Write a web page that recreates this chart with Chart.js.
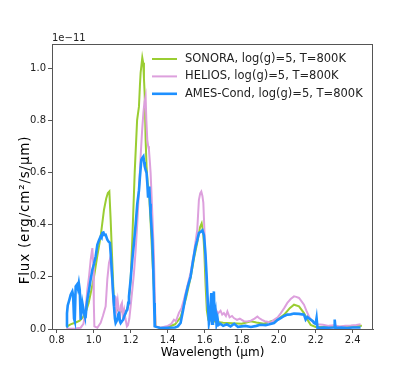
<!DOCTYPE html>
<html>
<head>
<meta charset="utf-8">
<script src="https://cdn.jsdelivr.net/npm/chart.js@4.4.0/dist/chart.umd.min.js"></script>
<style>
  html, body { margin: 0; padding: 0; background: #fff; }
  #wrap { width: 415px; height: 370px; }
</style>
</head>
<body>
<div id="wrap"><canvas id="spectra" width="415" height="370"></canvas></div>
<script>
'use strict';

// ── Data (flux in units of 1e-11 erg/cm²/s/µm, wavelength in µm) ──
const FLUX_EXP = '1e\u221211';
const X_TITLE = 'Wavelength (µm)';
const Y_TITLE = 'Flux (erg/cm²/s/µm)';

const xTicks = [0.8, 1.0, 1.2, 1.4, 1.6, 1.8, 2.0, 2.2, 2.4];
const yTicks = [0.0, 0.2, 0.4, 0.6, 0.8, 1.0];

const seriesLabels = [
    'SONORA, log(g)=5, T=800K',
    'HELIOS, log(g)=5, T=800K',
    'AMES-Cond, log(g)=5, T=800K'
];

const sonora = [
    [0.852, 0.008], [0.875, 0.018], [0.903, 0.025], [0.925, 0.032], [0.946, 0.048],
    [0.960, 0.07], [0.973, 0.10], [0.988, 0.15], [1.002, 0.20], [1.02, 0.28],
    [1.038, 0.355], [1.056, 0.457], [1.068, 0.50], [1.077, 0.521], [1.085, 0.527],
    [1.092, 0.419], [1.101, 0.254], [1.110, 0.10], [1.119, 0.078], [1.133, 0.07],
    [1.146, 0.066], [1.160, 0.07], [1.173, 0.062], [1.182, 0.08], [1.189, 0.093],
    [1.2, 0.189], [1.209, 0.342], [1.222, 0.60], [1.235, 0.80], [1.245, 0.852],
    [1.250, 0.93], [1.254, 0.982], [1.263, 1.04], [1.268, 1.02], [1.272, 0.96],
    [1.276, 0.90], [1.281, 0.725], [1.286, 0.623], [1.292, 0.56], [1.299, 0.53],
    [1.308, 0.407], [1.317, 0.278], [1.326, 0.15], [1.335, 0.01], [1.36, 0.004],
    [1.40, 0.007], [1.44, 0.018], [1.47, 0.045], [1.50, 0.12], [1.525, 0.20],
    [1.545, 0.28], [1.56, 0.33], [1.575, 0.39], [1.584, 0.405], [1.592, 0.37],
    [1.598, 0.30], [1.605, 0.17], [1.612, 0.07], [1.62, 0.035], [1.66, 0.028],
    [1.70, 0.024], [1.75, 0.022], [1.80, 0.02], [1.85, 0.03], [1.88, 0.025],
    [1.92, 0.02], [1.96, 0.03], [1.993, 0.036], [2.03, 0.055], [2.06, 0.08],
    [2.083, 0.093], [2.11, 0.087], [2.137, 0.061], [2.155, 0.036], [2.173, 0.016],
    [2.20, 0.008], [2.30, 0.008], [2.40, 0.01], [2.45, 0.012]
];

const helios = [
    [0.852, 0.0], [0.90, 0.002], [0.93, 0.005], [0.945, 0.02], [0.955, 0.06],
    [0.966, 0.15], [0.975, 0.2], [0.984, 0.265], [0.993, 0.31], [0.998, 0.25],
    [1.001, 0.10], [1.004, 0.01], [1.02, 0.005], [1.038, 0.024], [1.05, 0.05],
    [1.065, 0.087], [1.074, 0.19], [1.083, 0.253], [1.092, 0.278], [1.097, 0.22],
    [1.103, 0.15], [1.108, 0.10], [1.114, 0.06], [1.119, 0.125], [1.124, 0.08],
    [1.130, 0.11], [1.137, 0.06], [1.141, 0.035], [1.147, 0.09], [1.153, 0.10],
    [1.158, 0.05], [1.165, 0.074], [1.172, 0.04], [1.18, 0.01], [1.186, 0.015],
    [1.193, 0.04], [1.2, 0.087], [1.209, 0.15], [1.218, 0.215], [1.227, 0.30],
    [1.236, 0.406], [1.245, 0.53], [1.254, 0.661], [1.262, 0.76], [1.269, 0.828],
    [1.275, 0.87], [1.281, 0.891], [1.285, 0.80], [1.29, 0.725], [1.295, 0.70],
    [1.299, 0.687], [1.304, 0.64], [1.308, 0.598], [1.317, 0.445], [1.326, 0.278],
    [1.331, 0.112], [1.335, 0.01], [1.36, 0.005], [1.40, 0.012], [1.42, 0.02],
    [1.434, 0.036], [1.445, 0.03], [1.461, 0.062], [1.475, 0.08], [1.488, 0.112],
    [1.505, 0.16], [1.524, 0.215], [1.542, 0.29], [1.56, 0.38], [1.569, 0.495],
    [1.576, 0.52], [1.582, 0.527], [1.588, 0.51], [1.593, 0.483], [1.6, 0.355],
    [1.607, 0.227], [1.615, 0.10], [1.623, 0.048], [1.632, 0.06], [1.642, 0.087],
    [1.65, 0.065], [1.66, 0.075], [1.672, 0.06], [1.686, 0.07], [1.695, 0.055],
    [1.704, 0.061], [1.715, 0.05], [1.723, 0.067], [1.735, 0.045], [1.748, 0.05],
    [1.758, 0.042], [1.775, 0.035], [1.79, 0.04], [1.812, 0.03], [1.83, 0.029],
    [1.85, 0.032], [1.87, 0.04], [1.885, 0.048], [1.894, 0.042], [1.91, 0.035],
    [1.925, 0.03], [1.94, 0.028], [1.957, 0.025], [1.975, 0.035], [1.995, 0.045],
    [2.011, 0.06], [2.03, 0.08], [2.047, 0.10], [2.065, 0.115], [2.083, 0.125],
    [2.095, 0.123], [2.11, 0.119], [2.125, 0.105], [2.137, 0.093], [2.15, 0.07],
    [2.164, 0.048], [2.18, 0.03], [2.19, 0.023], [2.21, 0.018], [2.24, 0.016],
    [2.27, 0.012], [2.30, 0.014], [2.33, 0.01], [2.36, 0.012], [2.39, 0.013],
    [2.42, 0.015], [2.443, 0.018]
];

const ames = [
    [0.852, 0.01], [0.856, 0.06], [0.86, 0.09], [0.868, 0.11], [0.876, 0.131],
    [0.885, 0.144], [0.889, 0.13], [0.894, 0.04], [0.898, 0.03], [0.903, 0.163],
    [0.91, 0.17], [0.915, 0.155], [0.92, 0.176], [0.925, 0.15], [0.93, 0.036],
    [0.935, 0.07], [0.939, 0.10], [0.944, 0.08], [0.948, 0.061], [0.952, 0.05],
    [0.957, 0.048], [0.962, 0.09], [0.966, 0.112], [0.975, 0.15], [0.984, 0.19],
    [0.993, 0.227], [1.002, 0.25], [1.011, 0.278], [1.02, 0.323], [1.029, 0.34],
    [1.038, 0.355], [1.043, 0.35], [1.047, 0.368], [1.053, 0.37], [1.058, 0.36],
    [1.065, 0.361], [1.074, 0.342], [1.081, 0.335], [1.088, 0.33], [1.095, 0.26],
    [1.101, 0.189], [1.106, 0.13], [1.11, 0.087], [1.115, 0.04], [1.119, 0.023],
    [1.124, 0.03], [1.128, 0.036], [1.133, 0.055], [1.137, 0.067], [1.142, 0.03],
    [1.146, 0.023], [1.153, 0.03], [1.16, 0.036], [1.166, 0.05], [1.173, 0.061],
    [1.178, 0.07], [1.182, 0.074], [1.187, 0.10], [1.191, 0.125], [1.2, 0.189],
    [1.209, 0.265], [1.218, 0.33], [1.227, 0.40], [1.236, 0.48], [1.245, 0.53],
    [1.25, 0.58], [1.258, 0.649], [1.263, 0.655], [1.269, 0.661], [1.273, 0.64],
    [1.276, 0.623], [1.281, 0.61], [1.286, 0.598], [1.29, 0.56], [1.294, 0.508],
    [1.298, 0.53], [1.301, 0.546], [1.305, 0.48], [1.308, 0.444], [1.317, 0.342],
    [1.323, 0.215], [1.327, 0.10], [1.33, 0.01], [1.36, 0.004], [1.40, 0.005],
    [1.44, 0.006], [1.455, 0.01], [1.47, 0.023], [1.483, 0.07], [1.497, 0.125],
    [1.51, 0.165], [1.524, 0.20], [1.537, 0.26], [1.551, 0.316], [1.56, 0.34],
    [1.569, 0.368], [1.578, 0.372], [1.588, 0.378], [1.596, 0.36], [1.6, 0.33],
    [1.605, 0.28], [1.611, 0.20], [1.618, 0.087], [1.623, 0.023], [1.629, 0.05],
    [1.636, 0.138], [1.64, 0.02], [1.645, 0.06], [1.65, 0.144], [1.654, 0.03],
    [1.66, 0.06], [1.664, 0.02], [1.67, 0.04], [1.675, 0.015], [1.685, 0.02],
    [1.70, 0.012], [1.72, 0.018], [1.74, 0.01], [1.76, 0.02], [1.78, 0.008],
    [1.80, 0.01], [1.82, 0.012], [1.85, 0.008], [1.88, 0.012], [1.90, 0.016],
    [1.93, 0.015], [1.95, 0.018], [1.975, 0.023], [1.995, 0.035], [2.011, 0.042],
    [2.03, 0.05], [2.047, 0.055], [2.065, 0.056], [2.083, 0.059], [2.11, 0.058],
    [2.137, 0.055], [2.146, 0.036], [2.155, 0.046], [2.165, 0.04], [2.173, 0.036],
    [2.185, 0.03], [2.191, 0.023], [2.2, 0.02], [2.205, 0.042], [2.21, 0.004],
    [2.24, 0.006], [2.27, 0.005], [2.30, 0.006], [2.303, 0.036], [2.307, 0.005],
    [2.34, 0.006], [2.37, 0.004], [2.40, 0.006], [2.443, 0.006]
];

const seriesColors = ['#9acd32', '#dda0dd', '#1e90ff'];
const seriesWidths = [2, 2, 2.6];

// ── Helpers ───────────────────────────────────────────────
const FONT = "'DejaVu Sans', sans-serif";
const toPoints = arr => arr.map(p => ({ x: p[0], y: p[1] }));

// top/right spines, y label, legend, offset text
const framePlugin = {
    id: 'frame',
    afterDraw(chart) {
        const { ctx, chartArea: a } = chart;
        ctx.save();
        ctx.strokeStyle = '#555';
        ctx.lineWidth = 1;
        ctx.beginPath();
        ctx.moveTo(a.left, a.top + 0.5);
        ctx.lineTo(a.right, a.top + 0.5);
        ctx.moveTo(a.right - 0.5, a.top);
        ctx.lineTo(a.right - 0.5, a.bottom);
        ctx.stroke();

        // offset text
        ctx.fillStyle = '#222';
        ctx.font = '10px ' + FONT;
        ctx.textAlign = 'left';
        ctx.textBaseline = 'bottom';
        ctx.fillText(FLUX_EXP, a.left, a.top - 1);

        // y axis title
        ctx.save();
        ctx.translate(25, 210);
        ctx.rotate(-Math.PI / 2);
        ctx.fillStyle = '#000';
        ctx.font = '13.5px ' + FONT;
        if ('letterSpacing' in ctx) ctx.letterSpacing = '0.8px';
        ctx.textAlign = 'center';
        ctx.textBaseline = 'middle';
        ctx.fillText(Y_TITLE, 0, 0);
        ctx.restore();

        // legend
        ctx.font = '11.5px ' + FONT;
        ctx.textBaseline = 'middle';
        seriesLabels.forEach((label, i) => {
            const y = a.top + 15 + i * 17.4;
            const x0 = a.right - 221;
            ctx.strokeStyle = seriesColors[i];
            ctx.lineWidth = seriesWidths[i];
            ctx.beginPath();
            ctx.moveTo(x0, y);
            ctx.lineTo(x0 + 25, y);
            ctx.stroke();
            ctx.fillText(label, x0 + 33, y);
        });
        ctx.restore();
    }
};

// ── Chart ─────────────────────────────────────────────────
const allSeries = [sonora, helios, ames];
// order: lower order drawn on top -> AMES on top, SONORA at bottom
const datasets = allSeries.map((s, i) => ({
    label: seriesLabels[i],
    data: toPoints(s),
    borderColor: seriesColors[i],
    borderWidth: seriesWidths[i],
    pointRadius: 0,
    tension: 0,
    fill: false,
    order: allSeries.length - i
}));

new Chart(document.getElementById('spectra').getContext('2d'), {
    type: 'line',
    data: { datasets },
    plugins: [framePlugin],
    options: {
        responsive: false,
        animation: false,
        events: [],
        layout: { padding: { left: 0, top: 44, right: 42, bottom: 0 } },
        plugins: {
            legend: { display: false },
            tooltip: { enabled: false }
        },
        scales: {
            x: {
                type: 'linear',
                min: 0.775,
                max: 2.51,
                afterBuildTicks: s => { s.ticks = xTicks.map(v => ({ value: v })); },
                afterFit: s => { s.height = 41; },
                grid: { display: true, drawOnChartArea: false, tickLength: 4, tickColor: '#555' },
                border: { display: true, color: '#555', width: 1 },
                ticks: {
                    color: '#222',
                    padding: 1,
                    maxRotation: 0,
                    font: { family: FONT, size: 10 },
                    callback: v => Number(v).toFixed(1)
                },
                title: {
                    display: true,
                    text: X_TITLE,
                    color: '#000',
                    font: { family: FONT, size: 12 },
                    padding: { top: 0, bottom: 10 }
                }
            },
            y: {
                min: 0,
                max: 1.092,
                afterBuildTicks: s => { s.ticks = yTicks.map(v => ({ value: v })); },
                afterFit: s => { s.width = 52; },
                grid: { display: true, drawOnChartArea: false, tickLength: 4, tickColor: '#555' },
                border: { display: true, color: '#555', width: 1 },
                ticks: {
                    color: '#222',
                    padding: 2,
                    font: { family: FONT, size: 10 },
                    callback: v => Number(v).toFixed(1)
                },
                title: { display: false }
            }
        }
    }
});
</script>
</body>
</html>
